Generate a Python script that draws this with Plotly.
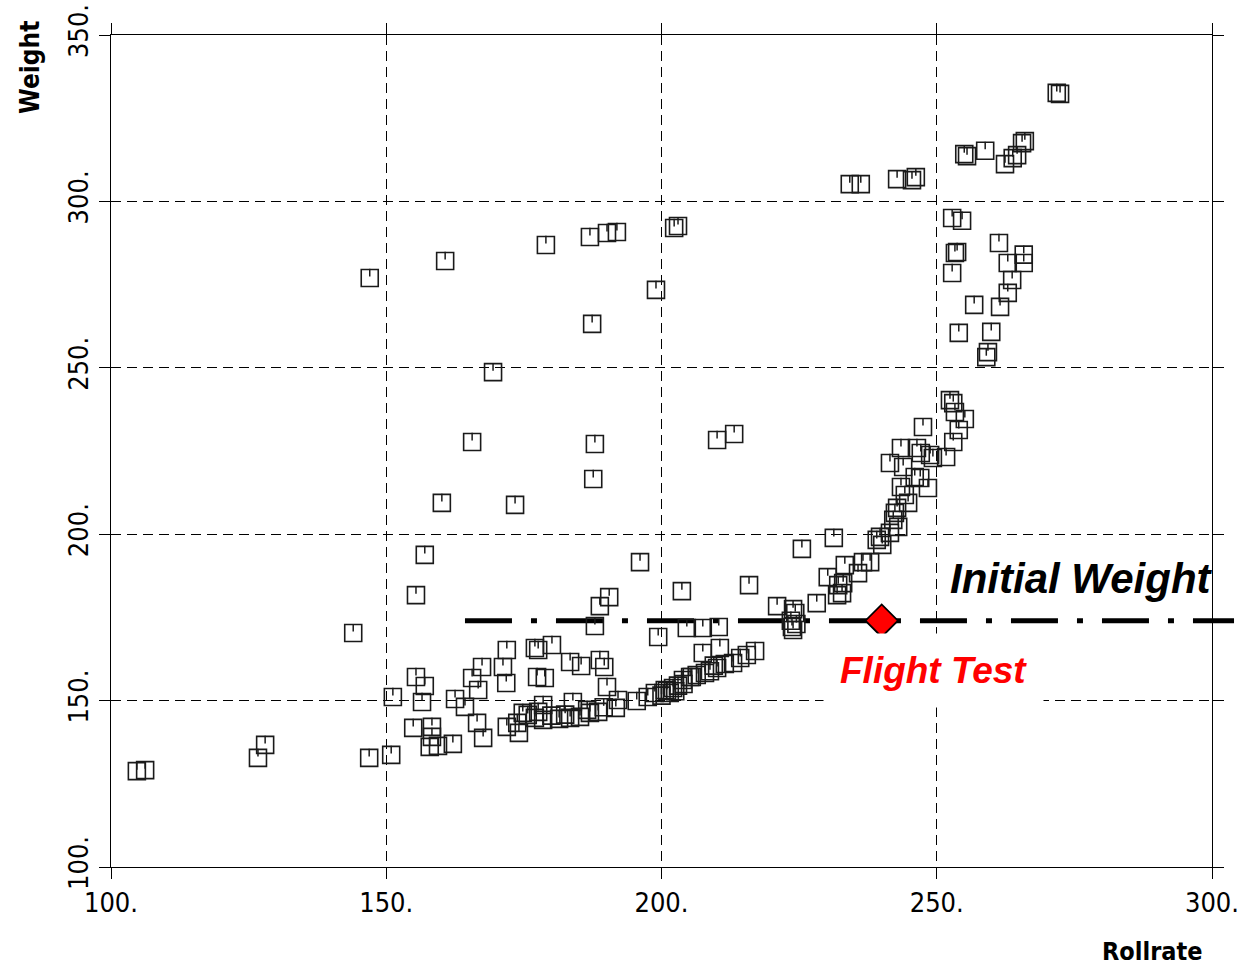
import plotly.graph_objects as go

# ---- data ----
rollrate = [
    104.7, 106.2, 126.7, 128.0, 146.9, 150.9, 144.0, 147.0, 160.7, 157.0,
    155.4, 160.1, 165.6, 169.4, 173.4, 179.0, 187.0, 190.1, 191.9, 187.4,
    187.9, 187.6, 199.0, 202.3, 203.0, 196.1, 203.7, 210.1, 213.2, 215.9,
    225.5, 231.3, 234.2, 236.2, 242.8, 245.5, 246.2, 255.0, 255.5, 258.8,
    262.4, 263.8, 264.6, 265.5, 266.0, 271.8, 272.4,
    252.8, 254.6, 253.7, 253.3, 252.8, 261.3, 262.9, 265.8, 265.8, 263.7,
    262.9, 256.8, 261.5, 254.0, 259.9, 259.3, 259.0,
    252.4, 253.0, 253.3, 255.1, 254.0, 253.0, 251.7, 247.5, 243.5, 246.4,
    247.1, 248.8, 249.3, 241.5, 243.9, 246.0, 247.0, 248.4, 243.5, 244.2,
    244.8, 242.8, 242.4, 242.1, 243.0, 241.5, 239.1, 240.1, 239.7, 236.6,
    237.9, 235.7, 233.0, 232.8,
    233.3, 230.2, 232.1, 231.9, 228.2, 221.0, 223.9, 224.3, 223.7, 223.9,
    204.6, 207.5, 210.4, 207.5, 210.6, 217.0, 215.5, 214.3, 213.0, 210.1,
    207.9, 205.2, 203.9,
    190.5, 188.8, 187.9, 199.4, 180.1, 177.6, 183.4, 185.4, 188.8, 189.6,
    178.8, 190.1, 178.5, 183.9, 192.1, 191.7, 188.5, 187.0, 185.2, 183.4,
    181.4, 178.5, 177.0, 195.5, 197.5, 198.8, 200.6, 201.5, 202.1, 205.5,
    206.4,
    171.9, 177.0, 167.4, 171.2, 171.8, 165.6, 166.7, 155.4, 157.0, 151.2,
    156.5, 162.5, 164.3, 166.5, 167.6, 154.9, 158.3, 158.3, 157.9, 159.4,
    162.1, 171.9, 173.8, 174.8, 175.7, 174.1, 177.6, 177.4,
    200.0, 201.0, 202.5, 203.0, 204.0, 208.8, 209.5, 211.5, 224.5, 223.5,
    180.0, 182.5, 186.5, 189.5,
]
weight = [
    128.8, 129.1, 132.8, 136.7, 132.8, 133.7, 170.3, 277.0, 282.1, 193.8,
    181.7, 209.4, 227.7, 248.7, 208.8, 286.9, 289.3, 290.5, 290.8, 263.2,
    227.1, 216.6, 273.4, 292.0, 292.6, 191.6, 182.9, 228.3, 230.1, 184.7,
    195.6, 198.9, 305.2, 305.2, 306.7, 306.4, 307.3, 314.2, 313.6, 315.2,
    311.2, 313.0, 313.9, 317.5, 318.1, 332.6, 332.3,
    295.0, 294.2, 284.8, 284.5, 278.5, 287.5, 281.5, 284.0, 281.5, 276.4,
    272.5, 268.9, 268.3, 260.5, 260.8, 254.7, 253.2,
    240.3, 239.4, 236.7, 234.6, 231.3, 227.7, 223.2, 232.2, 225.9, 225.9,
    224.4, 223.8, 222.9, 221.4, 220.2, 217.2, 216.9, 213.9, 214.2, 211.8,
    209.4, 207.9, 206.4, 204.3, 202.2, 200.4, 198.3, 196.8, 199.2, 191.6,
    191.6, 188.3, 185.3, 182.3,
    190.7, 187.1, 184.7, 181.7, 179.3, 178.4, 177.5, 176.3, 172.1, 171.2,
    171.8, 171.8, 172.1, 164.3, 165.8, 164.9, 163.7, 162.8, 161.3, 159.8,
    158.3, 157.1, 156.2,
    181.1, 178.4, 172.4, 169.1, 166.7, 165.2, 161.6, 160.4, 162.2, 160.1,
    156.8, 154.1, 148.7, 149.6, 150.2, 147.8, 146.6, 146.3, 145.1, 144.8,
    144.5, 144.2, 144.8, 149.9, 151.1, 152.3, 153.2, 152.3, 153.8, 157.1,
    157.7,
    165.2, 165.8, 160.1, 160.1, 155.3, 156.8, 153.2, 157.1, 154.4, 151.1,
    149.6, 150.5, 148.1, 143.3, 138.8, 141.8, 142.1, 139.1, 136.1, 136.4,
    137.0, 142.1, 143.3, 146.3, 145.7, 140.3, 146.6, 157.1,
    151.5, 153.0, 152.8, 154.5, 155.0, 158.8, 160.5, 161.0, 173.0, 174.0,
    145.5, 145.8, 147.2, 148.0,
]

initial_weight = 174.0
initial_line_start = 164.3
initial_line_end = 304.0
flight_test_rollrate = [240.0]
flight_test_weight = [174.0]

x_ticks = [100, 150, 200, 250, 300]
x_ticktext = ["100.", "150.", "200.", "250.", "300."]
y_ticks = [100, 150, 200, 250, 300, 350]
y_ticktext = ["100.", "150.", "200.", "250.", "300.", "350."]

X_RANGE = [100, 300]
Y_RANGE = [100, 350]

# ---- layout geometry ----
W, H = 1244, 968
ML, MR, MT, MB = 111, 32, 35, 101
plot_h = H - MT - MB
px_per_y = plot_h / (Y_RANGE[1] - Y_RANGE[0])
tick_dy = 5.3 / px_per_y  # small tick inside top of each square

TICK_FONT = "Liberation Sans Narrow, DejaVu Sans Condensed, Arial Narrow, sans-serif"

fig = go.Figure()

fig.add_trace(go.Scatter(
    x=rollrate, y=weight, mode="markers",
    marker=dict(symbol="square-open", size=17, color="#1a1a1a",
                line=dict(width=1.6, color="#1a1a1a")),
    hoverinfo="x+y", showlegend=False,
))
fig.add_trace(go.Scatter(
    x=rollrate, y=[w + tick_dy for w in weight], mode="markers",
    marker=dict(symbol="line-ns", size=5.5, color="#1a1a1a",
                line=dict(width=1.5, color="#1a1a1a")),
    hoverinfo="skip", showlegend=False,
))
fig.add_trace(go.Scatter(
    x=flight_test_rollrate, y=flight_test_weight, mode="markers",
    marker=dict(symbol="diamond", size=25, color="#ff0000",
                line=dict(width=1.8, color="black")),
    showlegend=False, cliponaxis=False,
))

def to_paper_x(v):
    return (v - X_RANGE[0]) / (X_RANGE[1] - X_RANGE[0])

def to_paper_y(v):
    return (v - Y_RANGE[0]) / (Y_RANGE[1] - Y_RANGE[0])

fig.add_shape(
    type="line", xref="paper", yref="paper",
    x0=to_paper_x(initial_line_start), x1=to_paper_x(initial_line_end),
    y0=to_paper_y(initial_weight), y1=to_paper_y(initial_weight),
    line=dict(color="black", width=5, dash="47px,19px,6px,19px"),
    layer="below",
)

fig.add_annotation(
    text="<b><i>Initial Weight</i></b>", xref="paper", yref="paper",
    x=0.8815, y=0.347, xanchor="center", yanchor="middle", showarrow=False,
    font=dict(family="Liberation Sans, Arial, sans-serif", size=42, color="black"),
)
fig.add_annotation(
    text="<b><i>Flight Test</i></b>", xref="paper", yref="paper",
    x=0.7466, y=0.2365, xanchor="center", yanchor="middle", showarrow=False,
    bgcolor="white", borderpad=16,
    font=dict(family="Liberation Sans, Arial, sans-serif", size=37, color="#ff0000"),
)
fig.add_annotation(
    text="<b>Weight</b>", xref="paper", yref="paper",
    x=-0.0736, y=1.0, xanchor="center", yanchor="middle", showarrow=False,
    textangle=-90,
    font=dict(family=TICK_FONT, size=26, color="black"),
    yshift=-32,
)
fig.add_annotation(
    text="<b>Rollrate</b>", xref="paper", yref="paper",
    x=0.9455, y=0, xanchor="center", yanchor="middle", showarrow=False,
    font=dict(family=TICK_FONT, size=25, color="black"),
    yshift=-84,
)

axis_common = dict(
    showline=True, linecolor="black", linewidth=1.4, mirror="allticks",
    ticks="outside", ticklen=11, tickwidth=1.4, tickcolor="black",
    showgrid=True, gridcolor="black", gridwidth=1, griddash="10px,6px",
    zeroline=False,
    tickfont=dict(family=TICK_FONT, size=27, color="black"),
)

fig.update_xaxes(range=X_RANGE, tickvals=x_ticks, ticktext=x_ticktext, **axis_common)
fig.update_yaxes(range=Y_RANGE, tickvals=y_ticks, ticktext=y_ticktext,
                 tickangle=-90, **axis_common)

fig.update_layout(
    width=W, height=H,
    margin=dict(l=ML, r=MR, t=MT, b=MB, autoexpand=False),
    paper_bgcolor="white", plot_bgcolor="rgba(0,0,0,0)",
    showlegend=False,
)

fig.write_html("out.html")
